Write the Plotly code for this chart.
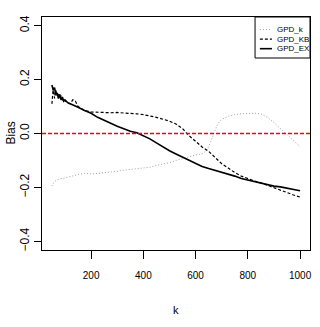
import plotly.graph_objects as go

# GPD_k (grey dotted)
k_gpd_k = [50, 55, 60, 70, 80, 100, 125, 150, 175, 200, 225, 250, 275, 300, 325, 350, 375,
           400, 425, 450, 475, 500, 525, 550, 575, 600, 625, 640, 650, 660, 670, 680, 690,
           700, 725, 750, 775, 800, 825, 850, 875, 900, 925, 950, 975, 1000]
bias_gpd_k = [-0.195, -0.185, -0.178, -0.172, -0.168, -0.165, -0.158, -0.152, -0.148, -0.15,
              -0.148, -0.146, -0.143, -0.14, -0.136, -0.133, -0.129, -0.126, -0.125, -0.118,
              -0.113, -0.108, -0.1, -0.093, -0.086, -0.08, -0.075, -0.065, -0.05, -0.025,
              0.0, 0.025, 0.042, 0.052, 0.064, 0.07, 0.073, 0.074, 0.075, 0.073, 0.06, 0.04,
              0.018, -0.004, -0.026, -0.049]

# GPD_KB (black dashed)
k_gpd_kb = [50, 55, 60, 65, 70, 75, 80, 85, 90, 95, 100, 110, 120, 130, 140, 150, 160, 175,
            200, 225, 250, 275, 300, 325, 350, 375, 400, 425, 450, 475, 500, 525, 550, 575,
            600, 625, 650, 675, 700, 725, 750, 775, 800, 825, 850, 875, 900, 925, 950, 975, 1000]
bias_gpd_kb = [0.11, 0.17, 0.13, 0.16, 0.14, 0.15, 0.13, 0.14, 0.125, 0.13, 0.12, 0.115, 0.11,
               0.125, 0.12, 0.1, 0.095, 0.085, 0.08, 0.078, 0.078, 0.077, 0.078, 0.076, 0.075,
               0.073, 0.07, 0.066, 0.06, 0.053, 0.046, 0.035, 0.018, -0.008, -0.03, -0.05,
               -0.066, -0.09, -0.112, -0.128, -0.145, -0.158, -0.168, -0.176, -0.183, -0.192,
               -0.203, -0.212, -0.22, -0.228, -0.236]

# GPD_EX (black solid)
k_gpd_ex = [50, 55, 60, 65, 70, 75, 80, 85, 90, 95, 100, 110, 120, 130, 140, 150, 175, 200,
            225, 250, 275, 300, 325, 350, 375, 400, 425, 450, 475, 500, 525, 550, 575, 600,
            625, 650, 675, 700, 725, 750, 775, 800, 825, 850, 875, 900, 925, 950, 975, 1000]
bias_gpd_ex = [0.18, 0.16, 0.17, 0.145, 0.15, 0.13, 0.145, 0.125, 0.135, 0.12, 0.125, 0.115,
               0.11, 0.106, 0.1, 0.097, 0.085, 0.075, 0.06, 0.048, 0.038, 0.027, 0.018, 0.008,
               0.003, -0.008, -0.02, -0.035, -0.05, -0.064, -0.076, -0.088, -0.1, -0.112,
               -0.122, -0.13, -0.137, -0.143, -0.15, -0.158, -0.167, -0.173, -0.178, -0.183,
               -0.189, -0.195, -0.198, -0.202, -0.207, -0.212]

x_ticks = [200, 400, 600, 800, 1000]
y_ticks = [-0.4, -0.2, 0.0, 0.2, 0.4]
y_tick_text = ["\u22120.4", "\u22120.2", "0.0", "0.2", "0.4"]

series = [
    ("GPD_k", k_gpd_k, bias_gpd_k, dict(color="#a0a0a0", width=1, dash="1px,2px")),
    ("GPD_KB", k_gpd_kb, bias_gpd_kb, dict(color="black", width=1.2, dash="3px,2px")),
    ("GPD_EX", k_gpd_ex, bias_gpd_ex, dict(color="black", width=1.6)),
]

fig = go.Figure()
for name, xs, ys, line in series:
    fig.add_trace(go.Scatter(x=xs, y=ys, mode="lines", name=name, line=line,
                             showlegend=False))

# horizontal reference at zero bias
fig.add_shape(type="line", xref="paper", yref="y", x0=0, x1=1, y0=0, y1=0,
              line=dict(color="#ff0000", width=1.5, dash="4px,2px"))

# small boxed legend in the top right corner, R style
fig.add_shape(type="rect", xref="paper", yref="paper", x0=0.795, x1=1.0, y0=0.824, y1=1.0,
              line=dict(color="black", width=1), fillcolor="white", layer="above")
for i, (name, _, _, line) in enumerate(series):
    yy = 0.946 - i * 0.041
    fig.add_shape(type="line", xref="paper", yref="paper", x0=0.813, x1=0.858, y0=yy, y1=yy,
                  line=line, layer="above")
    fig.add_annotation(x=0.868, y=yy, xref="paper", yref="paper", text=name, showarrow=False,
                       xanchor="left", yanchor="middle", font=dict(size=8, color="black"))

# axis titles
fig.add_annotation(x=-0.119, y=0.5, xref="paper", yref="paper", text="Bias", showarrow=False,
                   textangle=-90, xanchor="center", yanchor="middle",
                   font=dict(size=12, color="black"))
fig.add_annotation(x=0.5, y=-0.2575, xref="paper", yref="paper", text="k", showarrow=False,
                   xanchor="center", yanchor="middle", font=dict(size=11, color="black"))

fig.update_layout(
    template="none",
    width=320, height=327,
    margin=dict(l=42, r=10, t=17, b=77),
    paper_bgcolor="white", plot_bgcolor="white",
    font=dict(family="Liberation Sans, Arial, sans-serif", color="black", size=12),
)
fig.update_xaxes(range=[12, 1038], tickvals=x_ticks, showline=True, mirror=True,
                 linecolor="black", linewidth=1, ticks="outside", ticklen=8,
                 tickcolor="black", showgrid=False, zeroline=False, automargin=False,
                 tickfont=dict(size=10, color="black"), ticklabelstandoff=8)
fig.update_yaxes(range=[-0.432, 0.432], tickvals=y_ticks, ticktext=y_tick_text,
                 tickangle=-90, showline=True, mirror=True, linecolor="black",
                 linewidth=1, ticks="outside", ticklen=7, tickcolor="black",
                 showgrid=False, zeroline=False, automargin=False,
                 tickfont=dict(size=12, color="black"))

# the page body has a default 8px margin; drop it so the figure fills the window
fig.write_html("out.html", config={"displayModeBar": False},
               post_script="document.body.style.margin='0';")
